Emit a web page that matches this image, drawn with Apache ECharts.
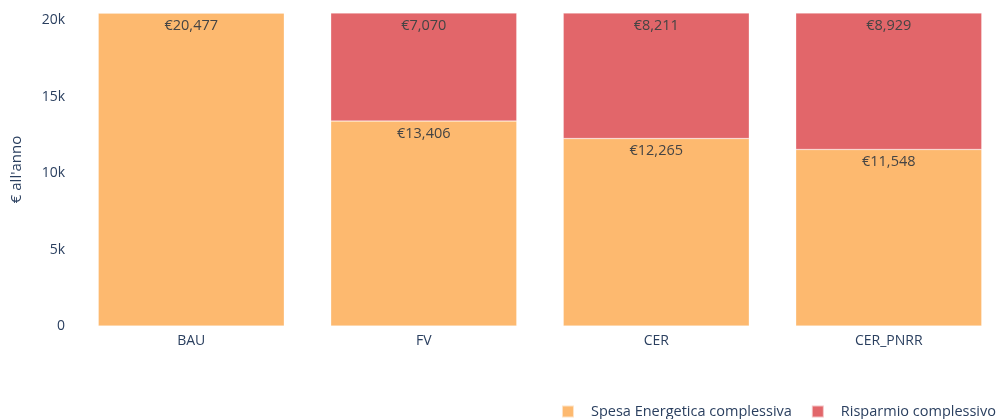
<!DOCTYPE html>
<html>
<head>
<meta charset="utf-8">
<script src="https://cdn.jsdelivr.net/npm/echarts@6/dist/echarts.min.js"></script>
<style>
  html, body { margin: 0; padding: 0; background: #fff; }
  #chart { width: 1004px; height: 419px; }
</style>
</head>
<body>
<div id="chart"></div>
<script>
const categories = ['BAU', 'FV', 'CER', 'CER_PNRR'];
const spesa = [20477, 13406, 12265, 11548];
const risparmio = [0, 7070, 8211, 8929];
const seriesNames = ['Spesa Energetica complessiva', 'Risparmio complessivo'];
const yTicks = [0, 5000, 10000, 15000, 20000];

const FONT = '"Open Sans", verdana, arial, sans-serif';
const AXIS_COLOR = '#2a3f5f';

function euro(v) {
  return '€' + v.toLocaleString('en-US');
}

const chart = echarts.init(document.getElementById('chart'));

const barLabel = {
  show: true,
  position: 'insideTop',
  distance: 5,
  color: '#444',
  fontFamily: FONT,
  fontSize: 14.5,
  formatter: (p) => (p.value ? euro(p.value) : '')
};

chart.setOption({
  animation: false,
  textStyle: { fontFamily: FONT },
  grid: { left: 75, top: 13, width: 930, height: 313, outerBoundsMode: 'none', containLabel: false },
  legend: {
    right: 3,
    top: 399,
    itemWidth: 12,
    itemHeight: 12,
    itemGap: 19,
    icon: 'rect',
    textStyle: { color: AXIS_COLOR, fontSize: 14.5, fontFamily: FONT, padding: [0, 0, 0, 12] },
    data: seriesNames
  },
  xAxis: {
    type: 'category',
    data: categories,
    axisLine: { show: false },
    axisTick: { show: false },
    axisLabel: { color: AXIS_COLOR, fontSize: 14, fontFamily: FONT, margin: 8 }
  },
  yAxis: {
    type: 'value',
    min: 0,
    max: 20477,
    interval: 5000,
    name: '€ all\'anno',
    nameLocation: 'middle',
    nameGap: 51,
    nameTextStyle: { color: AXIS_COLOR, fontSize: 15, fontFamily: FONT },
    splitLine: { show: false },
    axisLine: { show: false },
    axisTick: { show: false },
    axisLabel: {
      color: AXIS_COLOR,
      fontSize: 14,
      fontFamily: FONT,
      margin: 10,
      customValues: yTicks,
      formatter: (v) => (v === 0 ? '0' : v / 1000 + 'k')
    }
  },
  series: [
    {
      name: seriesNames[0],
      type: 'bar',
      stack: 'tot',
      barWidth: '80%',
      data: spesa,
      itemStyle: { color: '#fdb96f', borderColor: 'rgba(255,255,255,0.6)', borderWidth: 0.5 },
      label: barLabel
    },
    {
      name: seriesNames[1],
      type: 'bar',
      stack: 'tot',
      barWidth: '80%',
      data: risparmio,
      itemStyle: { color: '#e2666a', borderColor: 'rgba(255,255,255,0.6)', borderWidth: 0.5 },
      label: barLabel
    }
  ]
});
</script>
</body>
</html>
